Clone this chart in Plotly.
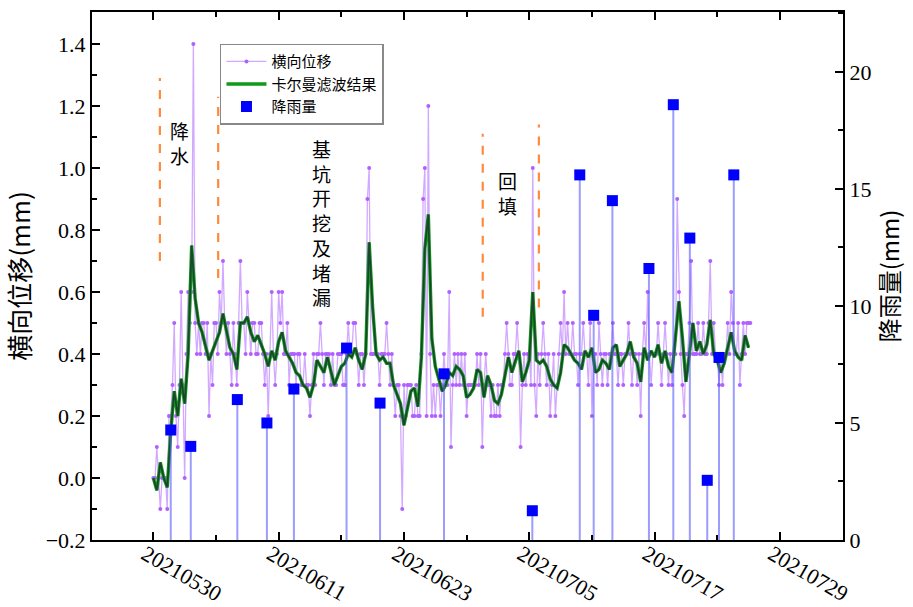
import pandas as pd
import plotly.graph_objects as go

# ---------------- data ----------------
disp_start = "2021-05-30 00:00"
# 横向位移 (mm), one reading every 4 hours
disp_step = "4h"
lateral_disp = [
    0.0, 0.0, 0.1, 0.0, -0.1, 0.0, 0.0, 0.0, -0.1, 0.2, 0.2, 0.3,
    0.5, 0.2, 0.1, 0.3, 0.6, 0.3, 0.0, 0.4, 0.6, 0.5, 0.6, 1.4,
    0.5, 0.4, 0.5, 0.4, 0.5, 0.5, 0.4, 0.5, 0.2, 0.4, 0.3, 0.5,
    0.5, 0.4, 0.6, 0.5, 0.7, 0.5, 0.4, 0.5, 0.4, 0.3, 0.5, 0.4,
    0.3, 0.5, 0.7, 0.5, 0.5, 0.4, 0.6, 0.5, 0.4, 0.5, 0.5, 0.4,
    0.4, 0.5, 0.5, 0.4, 0.3, 0.4, 0.2, 0.4, 0.6, 0.4, 0.3, 0.4,
    0.6, 0.5, 0.6, 0.4, 0.4, 0.5, 0.3, 0.4, 0.4, 0.4, 0.3, 0.4,
    0.4, 0.3, 0.3, 0.4, 0.3, 0.3, 0.2, 0.3, 0.4, 0.3, 0.4, 0.4,
    0.5, 0.4, 0.3, 0.4, 0.4, 0.4, 0.3, 0.4, 0.3, 0.3, 0.4, 0.4,
    0.4, 0.3, 0.3, 0.4, 0.5, 0.4, 0.4, 0.5, 0.5, 0.4, 0.3, 0.4,
    0.4, 0.3, 0.4, 0.9, 1.0, 0.4, 0.4, 0.4, 0.4, 0.4, 0.3, 0.4,
    0.4, 0.4, 0.5, 0.4, 0.3, 0.4, 0.3, 0.2, 0.3, 0.3, 0.2, -0.1,
    0.3, 0.2, 0.3, 0.3, 0.3, 0.2, 0.2, 0.3, 0.2, 0.2, 0.4, 0.9,
    1.0, 0.2, 1.2, 0.4, 0.2, 0.3, 0.2, 0.3, 0.3, 0.2, 0.3, 0.4,
    0.3, 0.3, 0.6, 0.1, 0.3, 0.4, 0.3, 0.4, 0.3, 0.4, 0.3, 0.4,
    0.2, 0.3, 0.3, 0.3, 0.3, 0.3, 0.4, 0.3, 0.4, 0.1, 0.3, 0.4,
    0.3, 0.3, 0.2, 0.3, 0.2, 0.2, 0.3, 0.2, 0.3, 0.3, 0.4, 0.5,
    0.4, 0.3, 0.3, 0.4, 0.4, 0.5, 0.4, 0.1, 0.3, 0.4, 0.3, 0.4,
    0.4, 0.3, 1.0, 0.3, 0.2, 0.4, 0.3, 0.4, 0.5, 0.4, 0.3, 0.4,
    0.2, 0.3, 0.4, 0.2, 0.3, 0.4, 0.5, 0.4, 0.6, 0.4, 0.5, 0.4,
    0.4, 0.5, 0.4, 0.4, 0.3, 0.4, 0.4, 0.5, 0.4, 0.4, 0.3, 0.5,
    0.2, 0.4, 0.4, 0.3, 0.5, 0.4, 0.3, 0.4, 0.4, 0.3, 0.4, 0.4,
    0.5, 0.4, 0.4, 0.3, 0.4, 0.4, 0.3, 0.4, 0.4, 0.5, 0.4, 0.3,
    0.4, 0.4, 0.3, 0.4, 0.2, 0.4, 0.5, 0.4, 0.6, 0.4, 0.3, 0.4,
    0.4, 0.4, 0.5, 0.4, 0.3, 0.4, 0.5, 0.4, 0.3, 0.4, 0.3, 0.4,
    0.4, 0.9, 0.6, 0.4, 0.3, 0.2, 0.4, 0.4, 0.5, 0.7, 0.4, 0.4,
    0.4, 0.5, 0.4, 0.4, 0.5, 0.4, 0.4, 0.5, 0.7, 0.4, 0.5, 0.4,
    0.4, 0.3, 0.4, 0.3, 0.4, 0.4, 0.5, 0.4, 0.6, 0.5, 0.4, 0.4,
    0.5, 0.3, 0.4, 0.5, 0.4, 0.5, 0.5, 0.5,
]
# 卡尔曼滤波结果 (mm), one value every 8 hours
kalman_step = "8h"
kalman = [
    0.0, -0.04, 0.05, 0.0, -0.03, 0.15, 0.28, 0.2, 0.32, 0.24,
    0.40, 0.75, 0.58, 0.5, 0.47, 0.42, 0.38, 0.41, 0.44, 0.47,
    0.53, 0.48, 0.42, 0.4, 0.35, 0.5, 0.5, 0.52, 0.47, 0.44,
    0.46, 0.43, 0.4, 0.36, 0.41, 0.38, 0.44, 0.47, 0.41, 0.39,
    0.37, 0.34, 0.33, 0.3, 0.29, 0.26, 0.3, 0.38, 0.36, 0.34,
    0.39, 0.34, 0.3, 0.33, 0.36, 0.37, 0.4, 0.39, 0.42, 0.38,
    0.35, 0.40, 0.76, 0.55, 0.4, 0.38, 0.39, 0.37, 0.37, 0.3,
    0.27, 0.24, 0.17, 0.23, 0.28, 0.29, 0.23, 0.39, 0.74, 0.85,
    0.45, 0.36, 0.32, 0.28, 0.3, 0.34, 0.33, 0.36, 0.35, 0.33,
    0.26, 0.27, 0.29, 0.35, 0.34, 0.26, 0.33, 0.3, 0.25, 0.24,
    0.27, 0.33, 0.39, 0.34, 0.38, 0.41, 0.31, 0.34, 0.38, 0.6,
    0.38, 0.37, 0.38, 0.36, 0.32, 0.3, 0.29, 0.34, 0.43, 0.42,
    0.4, 0.38, 0.37, 0.35, 0.41, 0.39, 0.42, 0.34, 0.35, 0.38,
    0.37, 0.35, 0.42, 0.43, 0.36, 0.38, 0.4, 0.44, 0.39, 0.37,
    0.31, 0.42, 0.38, 0.41, 0.39, 0.43, 0.37, 0.41, 0.36, 0.34,
    0.45, 0.57, 0.45, 0.31, 0.4, 0.5, 0.41, 0.44, 0.4, 0.43,
    0.51, 0.4, 0.38, 0.34, 0.37, 0.42, 0.47, 0.41, 0.39, 0.38,
    0.46, 0.42,
]
# 降雨量 (mm)
rain_time = [
    "2021-05-31 16:00", "2021-06-02 14:00", "2021-06-07 01:00", "2021-06-09 21:00",
    "2021-06-12 11:00", "2021-06-17 12:00", "2021-06-20 17:00", "2021-06-26 20:00",
    "2021-07-05 07:00", "2021-07-09 20:00", "2021-07-11 04:00", "2021-07-12 23:00",
    "2021-07-16 11:00", "2021-07-18 19:00", "2021-07-20 09:00", "2021-07-22 01:00",
    "2021-07-23 04:00", "2021-07-24 14:00",
]
rain_mm = [4.7, 4.0, 6.0, 5.0, 6.45, 8.2, 5.85, 7.1, 1.25, 15.6,
           9.6, 14.5, 11.6, 18.6, 12.9, 2.55, 7.8, 15.6]

# construction phase boundaries (dashed markers)
phase_time = ["2021-05-30 15:00", "2021-06-05 05:00", "2021-06-30 13:00", "2021-07-05 22:00"]
phase_low = [0.70, 0.645, 0.52, 0.55]
phase_high = [1.29, 1.23, 1.11, 1.14]
phase_labels = ["降<br>水", "基<br>坑<br>开<br>挖<br>及<br>堵<br>漏", "回<br>填"]

tick_dates = ["2021-05-30", "2021-06-11", "2021-06-23", "2021-07-05", "2021-07-17", "2021-07-29"]

disp_time = pd.date_range(disp_start, periods=len(lateral_disp), freq=disp_step)
kalman_time = pd.date_range(disp_start, periods=len(kalman), freq=kalman_step)

# ---------------- figure ----------------
SERIF = "Liberation Serif, Times New Roman, Noto Sans CJK SC, serif"
CJK = "Noto Sans CJK SC, Liberation Serif, sans-serif"

fig = go.Figure()

fig.add_trace(go.Scatter(
    x=disp_time, y=lateral_disp, name="横向位移", mode="lines+markers",
    line=dict(color="rgba(195,140,255,0.75)", width=1.3),
    marker=dict(color="#b060ff", size=4, symbol="circle"),
))
fig.add_trace(go.Scatter(
    x=kalman_time, y=kalman, name="卡尔曼滤波结果", mode="lines",
    line=dict(color="#119a19", width=3.4),
))
fig.add_trace(go.Scatter(
    x=kalman_time, y=kalman, name="卡尔曼滤波结果", mode="lines", showlegend=False,
    line=dict(color="#1c4430", width=1.7), hoverinfo="skip",
))
fig.add_trace(go.Scatter(
    x=rain_time, y=rain_mm, name="降雨量", mode="markers", yaxis="y2",
    marker=dict(color="#0000ff", size=11, symbol="square"),
    error_y=dict(type="data", symmetric=False, array=[0] * len(rain_mm),
                 arrayminus=rain_mm, width=0, thickness=2,
                 color="rgba(90,90,255,0.6)"),
))

for t, lo, hi in zip(phase_time, phase_low, phase_high):
    fig.add_shape(type="line", xref="x", yref="y", x0=t, x1=t, y0=lo, y1=hi,
                  line=dict(color="#ff8a3d", width=2.2, dash="dash"))

label_pos = [(0.116, 0.752), (0.306, 0.602), (0.5526, 0.657)]
for txt, (px, py) in zip(phase_labels, label_pos):
    fig.add_annotation(x=px, y=py, xref="paper", yref="paper", text=txt,
                       showarrow=False, font=dict(family=CJK, size=19, color="black"),
                       xanchor="center", yanchor="middle")

axis_common = dict(showline=True, linecolor="black", linewidth=2, ticks="inside",
                   tickcolor="black", tickwidth=2, ticklen=8, showgrid=False,
                   zeroline=False, automargin=False,
                   tickfont=dict(family=SERIF, size=22, color="black"))

fig.update_layout(
    width=913, height=607,
    margin=dict(l=92, r=70, t=12, b=67),
    paper_bgcolor="white", plot_bgcolor="white",
    xaxis=dict(type="date", range=["2021-05-24 03:00", "2021-08-04 01:00"],
               tickvals=tick_dates, tickformat="%Y%m%d", tickangle=30,
               ticklabelstandoff=-9, ticklabelshift=-8,
               mirror="ticks",
               minor=dict(dtick=6 * 86400000, tick0="2021-05-30", ticks="inside",
                          ticklen=5, tickwidth=2, tickcolor="black"),
               **axis_common),
    yaxis=dict(range=[-0.2, 1.503], dtick=0.2, tick0=0, tickformat=".1f",
               title=dict(text="横向位移(mm)", font=dict(family=CJK, size=26, color="black"), standoff=8),
               minor=dict(dtick=0.1, ticks="inside", ticklen=5, tickwidth=2, tickcolor="black"),
               **axis_common),
    yaxis2=dict(range=[0, 22.56], dtick=5, tick0=0, overlaying="y", side="right",
                title=dict(text="降雨量(mm)", font=dict(family=CJK, size=24, color="black"), standoff=8),
                minor=dict(dtick=2.5, ticks="inside", ticklen=5, tickwidth=2, tickcolor="black"),
                **axis_common),
    legend=dict(x=0.1704, y=0.94, xanchor="left", yanchor="top",
                bgcolor="white", bordercolor="#888888", borderwidth=1.5,
                font=dict(family=SERIF, size=15, color="black"), tracegroupgap=0,
                itemwidth=40),
    showlegend=True,
)

fig.write_html("out.html", config={"displayModeBar": False},
               post_script="document.body.style.margin='0px';")
